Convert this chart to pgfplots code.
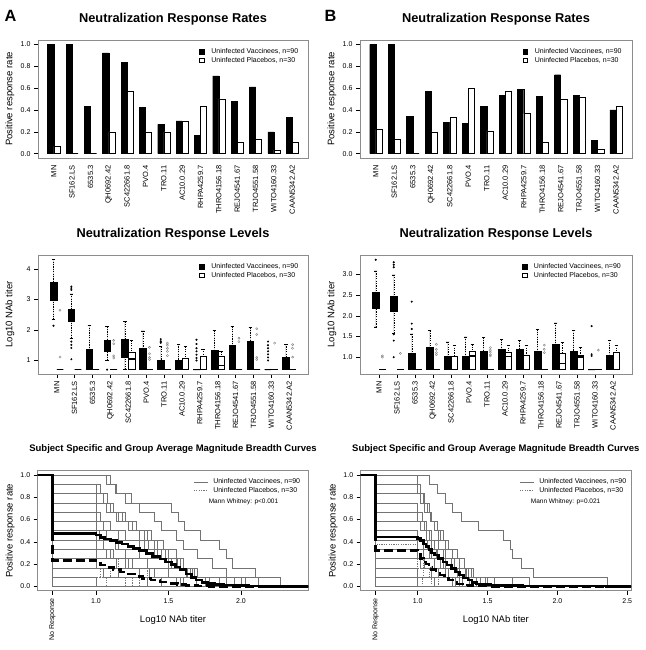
\documentclass[border=0pt]{standalone}
\usepackage{fontspec}
\setmainfont{Liberation Sans}
\usepackage{pgfplots}
\pgfplotsset{compat=1.18}
\usepgfplotslibrary{statistics}
\usepackage{pgfplotstable}

\pgfplotstableread{
i vA pA vB pB
0 1.000 0.067 1.000 0.222
1 1.000 0.000 1.000 0.133
2 0.433 0.000 0.344 0.000
3 0.922 0.200 0.567 0.200
4 0.833 0.567 0.289 0.333
5 0.422 0.200 0.278 0.600
6 0.267 0.200 0.433 0.208
7 0.300 0.300 0.533 0.567
8 0.167 0.433 0.589 0.367
9 0.711 0.500 0.522 0.100
10 0.478 0.100 0.722 0.500
11 0.611 0.133 0.533 0.520
12 0.200 0.033 0.122 0.037
13 0.333 0.100 0.400 0.433
}\rates

\pgfplotsset{
  /pgf/number format/assume math mode=true,
  every axis/.append style={
    scale only axis, anchor=south west,
    axis line style={black!45, line width=0.6pt},
    tick style={black, line width=0.4pt},
    major tick length=4pt, tick align=outside,
    xtick pos=left, ytick pos=left,
    ticklabel style={font=\fontsize{7}{8}\selectfont},
    label style={font=\fontsize{9.5}{11}\selectfont},
    title style={font=\fontsize{12.8}{14}\selectfont\bfseries, anchor=base, at={(0.5,1)}},
    legend cell align=left,
  },
  cats/.style={
    xtick={0,...,13},
    xticklabels={MN,SF162.LS,6535.3,QH0692.42,SC422661.8,PVO.4,TRO.11,AC10.0.29,RHPA4259.7,THRO4156.18,REJO4541.67,TRJO4551.58,WITO4160.33,CAAN5342.A2},
    xticklabel style={rotate=90, anchor=east, font=\fontsize{7.5}{8}\selectfont},
  },
  sqlegend/.style={
    legend style={draw=none, fill=none, at={(axis description cs:#1,0.937)}, anchor=north west,
      font=\fontsize{7}{8}\selectfont, inner sep=0pt, row sep=0.6pt,
      nodes={inner sep=0.8pt, text height=5pt, text depth=1.4pt}},
    legend image code/.code={\draw[##1, line width=0.4pt] (0pt,-2.4pt) rectangle (4.8pt,2.4pt); \path (11pt,0pt);},
  },
  lnlegend/.style={
    legend style={draw=none, fill=none, at={(axis description cs:#1,0.942)}, anchor=north west,
      font=\fontsize{7}{8}\selectfont, inner sep=0pt, row sep=0.6pt,
      nodes={inner sep=0.8pt, text height=5pt, text depth=1.4pt}},
    legend image code/.code={\draw[##1] (0pt,0pt) -- (14pt,0pt); \path (18.5pt,0pt);},
  },
  bxstyle/.style={
    boxplot/draw direction=y,
    boxplot/box extend=0.37,
    boxplot/whisker extend=0.185,
    boxplot/every median/.style={line width=1.6pt},
    boxplot/draw/lower whisker/.code={%
      \draw[dash pattern=on 1.2pt off 1.2pt, line width=0.4pt] (boxplot cs:\pgfplotsboxplotvalue{lower whisker}) -- (boxplot cs:\pgfplotsboxplotvalue{lower quartile});
      \draw[solid, line width=0.4pt] (boxplot whisker cs:\pgfplotsboxplotvalue{lower whisker},0) -- (boxplot whisker cs:\pgfplotsboxplotvalue{lower whisker},1);},
    boxplot/draw/upper whisker/.code={%
      \draw[dash pattern=on 1.2pt off 1.2pt, line width=0.4pt] (boxplot cs:\pgfplotsboxplotvalue{upper whisker}) -- (boxplot cs:\pgfplotsboxplotvalue{upper quartile});
      \draw[solid, line width=0.4pt] (boxplot whisker cs:\pgfplotsboxplotvalue{upper whisker},0) -- (boxplot whisker cs:\pgfplotsboxplotvalue{upper whisker},1);},
  },
}

% vaccinee box: pos, lw, q1, med, q3, uw, outliers
\newcommand{\VB}[7]{\addplot[draw=black, fill=black, line width=0.4pt, mark=*, mark size=0.8pt, mark options={solid, fill=black},
  boxplot prepared={draw direction=y, draw position=#1-0.185, lower whisker=#2, lower quartile=#3, median=#4, upper quartile=#5, upper whisker=#6}] coordinates {#7};}
\newcommand{\PB}[7]{\addplot[draw=black, fill=white, line width=0.4pt, mark=o, mark size=1.1pt, mark options={solid, draw=black!50, fill=none},
  boxplot prepared={draw direction=y, draw position=#1+0.185, lower whisker=#2, lower quartile=#3, median=#4, upper quartile=#5, upper whisker=#6}] coordinates {#7};}
\newcommand{\VF}[2]{\VB{#1}{0.699}{0.699}{0.699}{0.699}{0.699}{#2}}
\newcommand{\PF}[2]{\PB{#1}{0.699}{0.699}{0.699}{0.699}{0.699}{#2}}
\newcommand{\VO}[3]{\VB{#1}{0.699}{0.699}{0.699}{#2}{#3}{}}
% subject curves
\newcommand{\SC}[1]{\addplot[const plot, black!55, line width=0.4pt] coordinates {(0.55,1) #1 (2.6,0)};}
\newcommand{\SP}[1]{\addplot[const plot, black!55, line width=0.4pt, dash pattern=on 1.2pt off 1.2pt] coordinates {(0.55,1) #1 (2.6,0)};}

\begin{document}
\begin{tikzpicture}
\useasboundingbox (0,0) rectangle (645pt,650pt);

%================ TOP A
\begin{axis}[at={(38pt,492pt)}, width=270pt, height=118pt, cats,
  xmin=-0.86, xmax=13.86, ymin=-0.04, ymax=1.04,
  xtick style={draw=none},
  ytick={0,0.2,0.4,0.6,0.8,1}, yticklabels={0.0,0.2,0.4,0.6,0.8,1.0},
  title={Neutralization Response Rates}, title style={yshift=11.7pt},
  ylabel={Positive response rate}, ylabel style={at={(axis description cs:-0.1037,0.5)}, anchor=center},
  sqlegend=0.596]
\addlegendimage{fill=black, draw=black}\addlegendentry{Uninfected Vaccinees, n=90}
\addlegendimage{fill=white, draw=black}\addlegendentry{Uninfected Placebos, n=30}
\addplot[ybar, bar width=0.333, bar shift=0pt, fill=black, draw=black, line width=0.4pt] table[x expr=\thisrow{i}-0.1667, y=vA] {\rates};
\addplot[ybar, bar width=0.333, bar shift=0pt, fill=white, draw=black, line width=0.4pt] table[x expr=\thisrow{i}+0.1667, y=pA] {\rates};
\end{axis}

%================ TOP B
\begin{axis}[at={(360pt,492pt)}, width=272pt, height=118pt, cats,
  xmin=-0.86, xmax=13.86, ymin=-0.04, ymax=1.04,
  xtick style={draw=none},
  ytick={0,0.2,0.4,0.6,0.8,1}, yticklabels={0.0,0.2,0.4,0.6,0.8,1.0},
  title={Neutralization Response Rates}, title style={yshift=11.7pt},
  ylabel={Positive response rate}, ylabel style={at={(axis description cs:-0.103,0.5)}, anchor=center},
  sqlegend=0.597]
\addlegendimage{fill=black, draw=black}\addlegendentry{Uninfected Vaccinees, n=90}
\addlegendimage{fill=white, draw=black}\addlegendentry{Uninfected Placebos, n=30}
\addplot[ybar, bar width=0.333, bar shift=0pt, fill=black, draw=black, line width=0.4pt] table[x expr=\thisrow{i}-0.1667, y=vB] {\rates};
\addplot[ybar, bar width=0.333, bar shift=0pt, fill=white, draw=black, line width=0.4pt] table[x expr=\thisrow{i}+0.1667, y=pB] {\rates};
\end{axis}

%================ MIDDLE A
\begin{axis}[at={(38pt,276pt)}, width=270pt, height=119pt, cats, bxstyle,
  xmin=-1.05, xmax=14.05, ymin=0.555, ymax=4.465,
  ytick={1,2,3,4}, yticklabels={1,2,3,4},
  title={Neutralization Response Levels}, title style={yshift=11.7pt},
  ylabel={Log10 NAb titer}, ylabel style={at={(axis description cs:-0.1037,0.5)}, anchor=center},
  sqlegend=0.596]
\addlegendimage{fill=black, draw=black}\addlegendentry{Uninfected Vaccinees, n=90}
\addlegendimage{fill=white, draw=black}\addlegendentry{Uninfected Placebos, n=30}
\VB{0}{2.34}{2.99}{3.30}{3.57}{4.33}{(0,2.14)}
\VB{1}{1.73}{2.28}{2.50}{2.70}{3.19}{(0,3.32)(0,3.38)(0,3.43)(0,1.62)(0,1.51)(0,1.41)(0,1.04)}
\VO{2}{1.37}{2.16}
\VB{3}{1.00}{1.30}{1.50}{1.68}{2.11}{(0,0.699)}
\VB{4}{0.699}{1.11}{1.40}{1.70}{2.28}{}
\VO{5}{1.40}{1.97}
\VB{6}{0.699}{0.699}{0.699}{1.02}{1.46}{(0,1.58)(0,1.63)(0,1.70)}
\VO{7}{1.02}{1.54}
\VF{8}{(0,1.00)(0,1.08)(0,1.19)(0,1.30)(0,1.40)(0,1.54)(0,1.68)}
\VO{9}{1.35}{1.99}
\VO{10}{1.51}{2.12}
\VO{11}{1.62}{2.08}
\VF{12}{(0,1.00)(0,1.10)(0,1.20)(0,1.30)(0,1.40)(0,1.50)(0,1.62)}
\VO{13}{1.11}{1.54}
\PF{0}{(0,2.65)(0,1.11)}
\PF{1}{}
\PF{2}{}
\PF{3}{(0,1.66)(0,1.55)(0,1.15)(0,1.08)}
\PB{4}{0.699}{0.699}{1.04}{1.27}{1.66}{}
\PF{5}{(0,1.43)(0,1.22)(0,1.10)(0,1.03)}
\PF{6}{(0,1.57)(0,1.50)(0,1.40)(0,1.30)(0,1.16)}
\PB{7}{0.699}{0.699}{0.699}{1.08}{1.46}{}
\PB{8}{0.699}{0.699}{0.699}{1.13}{1.38}{}
\PB{9}{0.699}{0.699}{0.83}{1.13}{1.30}{}
\PF{10}{(0,1.73)(0,1.62)}
\PF{11}{(0,2.04)(0,1.85)(0,1.10)(0,1.03)}
\PF{12}{(0,1.57)}
\PF{13}{(0,1.52)(0,1.40)(0,1.11)}
\end{axis}

%================ MIDDLE B
\begin{axis}[at={(360pt,276pt)}, width=272pt, height=119pt, cats, bxstyle,
  xmin=-1.06, xmax=14.06, ymin=0.594, ymax=3.466,
  ytick={1,1.5,2,2.5,3}, yticklabels={1.0,1.5,2.0,2.5,3.0},
  title={Neutralization Response Levels}, title style={yshift=11.7pt},
  ylabel={Log10 NAb titer}, ylabel style={at={(axis description cs:-0.103,0.5)}, anchor=center},
  sqlegend=0.594]
\addlegendimage{fill=black, draw=black}\addlegendentry{Uninfected Vaccinees, n=90}
\addlegendimage{fill=white, draw=black}\addlegendentry{Uninfected Placebos, n=30}
\VB{0}{1.73}{2.18}{2.38}{2.56}{3.08}{(0,3.35)}
\VB{1}{1.58}{2.10}{2.30}{2.46}{2.99}{(0,3.29)(0,3.23)(0,3.17)(0,1.55)(0,1.40)(0,1.00)}
\VB{2}{0.699}{0.699}{0.699}{1.09}{1.56}{(0,2.34)(0,1.81)(0,1.68)}
\VO{3}{1.25}{1.64}
\VO{4}{1.03}{1.37}
\VO{5}{1.03}{1.49}
\VO{6}{1.15}{1.47}
\VO{7}{1.19}{1.43}
\VO{8}{1.19}{1.40}
\VO{9}{1.15}{1.67}
\VO{10}{1.31}{1.83}
\VO{11}{1.15}{1.65}
\VF{12}{(0,1.75)(0,1.07)(0,1.03)}
\VO{13}{1.05}{1.41}
\PF{0}{(0,1.03)(0,1.00)}
\PF{1}{(0,1.09)}
\PF{2}{}
\PF{3}{(0,1.31)(0,1.19)(0,1.11)(0,1.06)}
\PB{4}{0.699}{0.699}{0.699}{1.03}{1.29}{}
\PB{5}{0.699}{0.699}{1.03}{1.15}{1.31}{}
\PF{6}{(0,1.23)(0,1.17)(0,1.12)(0,1.06)(0,1.03)}
\PB{7}{0.699}{0.699}{1.02}{1.13}{1.29}{}
\PB{8}{0.699}{0.699}{0.699}{1.05}{1.29}{}
\PF{9}{(0,1.29)(0,1.19)(0,1.11)}
\PB{10}{0.699}{0.699}{0.85}{1.10}{1.35}{}
\PB{11}{0.699}{0.699}{1.01}{1.04}{1.23}{}
\PF{12}{(0,1.17)}
\PB{13}{0.699}{0.699}{0.699}{1.13}{1.29}{}
\end{axis}

%================ BOTTOM A
\begin{axis}[at={(37.7pt,59.3pt)}, width=270.6pt, height=120pt,
  xmin=0.598, xmax=2.464, ymin=-0.04, ymax=1.04,
  xtick={0.699,1,1.5,2}, xticklabels={\rotatebox{90}{No Response},1.0,1.5,2.0},
  ytick={0,0.2,0.4,0.6,0.8,1}, yticklabels={0.0,0.2,0.4,0.6,0.8,1.0},
  title={Subject Specific and Group Average Magnitude Breadth Curves},
  title style={font=\fontsize{9.5}{11}\selectfont\bfseries, yshift=13.4pt},
  xlabel={Log10 NAb titer}, xlabel style={at={(axis description cs:0.5,-0.244)}, anchor=center},
  ylabel={Positive response rate}, ylabel style={at={(axis description cs:-0.102,0.5)}, anchor=center},
  lnlegend=0.575]
\addlegendimage{black!55, line width=0.5pt}\addlegendentry{Uninfected Vaccinees, n=90}
\addlegendimage{black!55, line width=0.5pt, dash pattern=on 1.2pt off 1.2pt}\addlegendentry{Uninfected Placebos, n=30}
\SC{(0.699,1)(1.07,0.9167)(1.13,0.8333)(1.24,0.75)(1.52,0.6667)(1.57,0.5833)(1.61,0.5)(1.72,0.4167)(1.85,0.3333)(1.90,0.25)(1.94,0.1667)(2.10,0.0833)(2.27,0)}
\SC{(0.699,1)(1.10,0.9167)(1.14,0.8333)(1.2,0.75)(1.3,0.6667)(1.4,0.5833)(1.45,0.5)(1.55,0.4167)(1.6,0.3333)(1.7,0.25)(1.8,0.1667)(1.9,0.0833)(2.03,0)}
\SC{(0.699,0.9167)(1.0,0.8333)(1.05,0.75)(1.1,0.6667)(1.15,0.5833)(1.25,0.5)(1.35,0.4167)(1.42,0.3333)(1.5,0.25)(1.55,0.1667)(1.68,0.0833)(1.75,0)}
\SC{(0.699,0.9167)(1.03,0.8333)(1.08,0.75)(1.12,0.6667)(1.2,0.5833)(1.28,0.5)(1.33,0.4167)(1.4,0.3333)(1.48,0.25)(1.6,0.1667)(1.7,0.0833)(2.12,0)}
\SC{(0.699,0.8333)(1.0,0.75)(1.07,0.6667)(1.14,0.5833)(1.22,0.5)(1.3,0.4167)(1.36,0.3333)(1.45,0.25)(1.52,0.1667)(1.65,0.0833)(1.78,0)}
\SC{(0.699,0.8333)(1.05,0.75)(1.1,0.6667)(1.18,0.5833)(1.25,0.5)(1.38,0.4167)(1.46,0.3333)(1.55,0.25)(1.58,0.1667)(1.62,0.0833)(1.95,0)}
\SC{(0.699,0.75)(1.0,0.6667)(1.03,0.5833)(1.1,0.5)(1.2,0.4167)(1.3,0.3333)(1.4,0.25)(1.5,0.1667)(1.66,0.0833)(2.0,0)}
\SC{(0.699,0.6667)(1.0,0.5833)(1.1,0.5)(1.15,0.4167)(1.3,0.3333)(1.42,0.25)(1.56,0.1667)(1.63,0.0833)(1.75,0)}
\SC{(0.699,0.5833)(1.0,0.5)(1.07,0.4167)(1.13,0.3333)(1.2,0.25)(1.35,0.1667)(1.5,0.0833)(1.69,0)}
\SC{(0.699,0.5)(1.0,0.4167)(1.05,0.3333)(1.12,0.25)(1.25,0.1667)(1.37,0.0833)(1.6,0)}
\SC{(0.699,0.4167)(1.0,0.3333)(1.1,0.25)(1.2,0.1667)(1.4,0.0833)(1.55,0)}
\SC{(0.699,0.3333)(1.0,0.25)(1.14,0.1667)(1.3,0.0833)(1.58,0)}
\SC{(0.699,0.25)(1.0,0.1667)(1.15,0.0833)(1.45,0)}
\SC{(0.699,0.1667)(1.05,0.0833)(1.35,0)}
\SC{(0.699,0.0833)(1.0,0)}
\SC{(0.699,0.5)(1.02,0.4167)(1.15,0.3333)(1.3,0.25)(1.5,0.1667)(1.7,0.0833)(2.03,0)}
\SC{(0.699,0.6667)(1.0,0.5833)(1.05,0.5)(1.2,0.4167)(1.33,0.3333)(1.45,0.25)(1.55,0.1667)(1.62,0.0833)(1.85,0)}
\SC{(0.699,0.3333)(1.07,0.25)(1.22,0.1667)(1.5,0.0833)(1.9,0)}
\SC{(0.699,0)}
\SP{(0.699,0.25)(1.0,0.1667)(1.1,0.0833)(1.3,0)}
\SP{(0.699,0.1667)(1.03,0.0833)(1.2,0)}
\SP{(0.699,0.0833)(1.07,0)}
\SP{(0.699,0.3333)(1.0,0.25)(1.15,0.1667)(1.35,0.0833)(1.6,0)}
\SP{(0.699,0.0833)(1.25,0)}
\addplot[const plot, black, line width=2.6pt, dash pattern=on 9pt off 4pt] coordinates {(0.55,1)(0.699,0.233)(1.0,0.21)(1.03,0.19)(1.07,0.17)(1.12,0.15)(1.17,0.13)(1.22,0.11)(1.27,0.09)(1.32,0.072)(1.38,0.055)(1.44,0.04)(1.5,0.027)(1.56,0.015)(1.62,0.008)(1.7,0.003)(1.78,0)(2.6,0)};
\addplot[const plot, black, line width=2.6pt] coordinates {(0.55,1)(0.699,0.473)(1.0,0.46)(1.03,0.44)(1.06,0.425)(1.1,0.41)(1.14,0.395)(1.18,0.38)(1.22,0.36)(1.26,0.34)(1.3,0.32)(1.35,0.295)(1.39,0.27)(1.44,0.245)(1.48,0.22)(1.52,0.195)(1.55,0.175)(1.58,0.15)(1.62,0.11)(1.66,0.08)(1.69,0.055)(1.73,0.035)(1.77,0.025)(1.82,0.018)(1.88,0.012)(1.95,0.006)(2.05,0.002)(2.15,0)(2.6,0)};
\node[font=\fontsize{6.5}{8}\selectfont] at (axis description cs:0.7605,0.739) {Mann Whitney: p<0.001};
\end{axis}

%================ BOTTOM B
\begin{axis}[at={(360.7pt,59.3pt)}, width=270.3pt, height=120pt,
  xmin=0.592, xmax=2.527, ymin=-0.04, ymax=1.04,
  xtick={0.699,1,1.5,2,2.5}, xticklabels={\rotatebox{90}{No Response},1.0,1.5,2.0,2.5},
  ytick={0,0.2,0.4,0.6,0.8,1}, yticklabels={0.0,0.2,0.4,0.6,0.8,1.0},
  title={Subject Specific and Group Average Magnitude Breadth Curves},
  title style={font=\fontsize{9.5}{11}\selectfont\bfseries, yshift=13.4pt},
  xlabel={Log10 NAb titer}, xlabel style={at={(axis description cs:0.5,-0.244)}, anchor=center},
  ylabel={Positive response rate}, ylabel style={at={(axis description cs:-0.102,0.5)}, anchor=center},
  lnlegend=0.587]
\addlegendimage{black!55, line width=0.5pt}\addlegendentry{Uninfected Vaccinees, n=90}
\addlegendimage{black!55, line width=0.5pt, dash pattern=on 1.2pt off 1.2pt}\addlegendentry{Uninfected Placebos, n=30}
\SC{(0.699,1)(1.08,0.9167)(1.14,0.8333)(1.2,0.75)(1.25,0.6667)(1.31,0.5833)(1.43,0.5)(1.61,0.4167)(1.66,0.3333)(1.68,0.25)(1.74,0.1667)(1.83,0.0833)(2.36,0)}
\SC{(0.699,1)(1.0,0.9167)(1.02,0.8333)(1.05,0.75)(1.08,0.6667)(1.1,0.5833)(1.12,0.5)(1.15,0.4167)(1.2,0.3333)(1.25,0.25)(1.3,0.1667)(1.4,0.0833)(1.5,0)}
\SC{(0.699,0.9167)(1.0,0.8333)(1.04,0.75)(1.07,0.6667)(1.1,0.5833)(1.14,0.5)(1.18,0.4167)(1.22,0.3333)(1.28,0.25)(1.33,0.1667)(1.38,0.0833)(1.45,0)}
\SC{(0.699,0.8333)(1.02,0.75)(1.05,0.6667)(1.09,0.5833)(1.12,0.5)(1.16,0.4167)(1.2,0.3333)(1.25,0.25)(1.3,0.1667)(1.36,0.0833)(1.68,0)}
\SC{(0.699,0.75)(1.0,0.6667)(1.03,0.5833)(1.06,0.5)(1.1,0.4167)(1.15,0.3333)(1.2,0.25)(1.26,0.1667)(1.34,0.0833)(1.8,0)}
\SC{(0.699,0.6667)(1.0,0.5833)(1.05,0.5)(1.08,0.4167)(1.12,0.3333)(1.18,0.25)(1.24,0.1667)(1.3,0.0833)(1.42,0)}
\SC{(0.699,0.5833)(1.02,0.5)(1.06,0.4167)(1.1,0.3333)(1.14,0.25)(1.2,0.1667)(1.28,0.0833)(1.37,0)}
\SC{(0.699,0.5)(1.0,0.4167)(1.04,0.3333)(1.1,0.25)(1.16,0.1667)(1.22,0.0833)(1.32,0)}
\SC{(0.699,0.4167)(1.0,0.3333)(1.08,0.25)(1.12,0.1667)(1.2,0.0833)(1.3,0)}
\SC{(0.699,0.3333)(1.0,0.25)(1.05,0.1667)(1.15,0.0833)(1.27,0)}
\SC{(0.699,0.25)(1.02,0.1667)(1.1,0.0833)(1.25,0)}
\SC{(0.699,0.1667)(1.0,0.0833)(1.12,0)}
\SC{(0.699,0.0833)(1.0,0)}
\SC{(0.699,0.5)(1.0,0.4167)(1.07,0.3333)(1.13,0.25)(1.26,0.1667)(1.35,0.0833)(1.55,0)}
\SC{(0.699,0.3333)(1.04,0.25)(1.18,0.1667)(1.4,0.0833)(1.48,0)}
\SC{(0.699,0)}
\SP{(0.699,0.375)(1.0,0.25)(1.04,0.1667)(1.08,0.0833)(1.15,0)}
\SP{(0.699,0.25)(1.0,0.1667)(1.04,0.0833)(1.1,0)}
\SP{(0.699,0.1667)(1.0,0.0833)(1.03,0)}
\SP{(0.699,0.0833)(1.0,0)}
\addplot[const plot, black, line width=2.6pt, dash pattern=on 9pt off 4pt] coordinates {(0.55,1)(0.699,0.322)(1.0,0.29)(1.02,0.25)(1.04,0.22)(1.06,0.2)(1.08,0.17)(1.1,0.15)(1.13,0.12)(1.16,0.1)(1.19,0.075)(1.22,0.055)(1.25,0.035)(1.28,0.022)(1.32,0.012)(1.36,0.005)(1.42,0.001)(1.5,0)(2.6,0)};
\addplot[const plot, black, line width=2.6pt] coordinates {(0.55,1)(0.699,0.443)(1.0,0.43)(1.02,0.41)(1.04,0.38)(1.06,0.36)(1.08,0.33)(1.1,0.30)(1.12,0.28)(1.15,0.25)(1.18,0.22)(1.21,0.19)(1.24,0.16)(1.27,0.13)(1.3,0.1)(1.33,0.075)(1.36,0.055)(1.39,0.035)(1.42,0.022)(1.46,0.014)(1.52,0.01)(1.6,0.006)(1.75,0.003)(2.1,0.001)(2.35,0)(2.6,0)};
\node[font=\fontsize{6.5}{8}\selectfont] at (axis description cs:0.758,0.739) {Mann Whitney: p=0.021};
\end{axis}

\node[font=\fontsize{16.3}{18}\selectfont\bfseries, anchor=base west, inner sep=0pt] at (4.5pt,628.3pt) {A};
\node[font=\fontsize{16.3}{18}\selectfont\bfseries, anchor=base west, inner sep=0pt] at (324.5pt,628.3pt) {B};
\end{tikzpicture}
\end{document}
